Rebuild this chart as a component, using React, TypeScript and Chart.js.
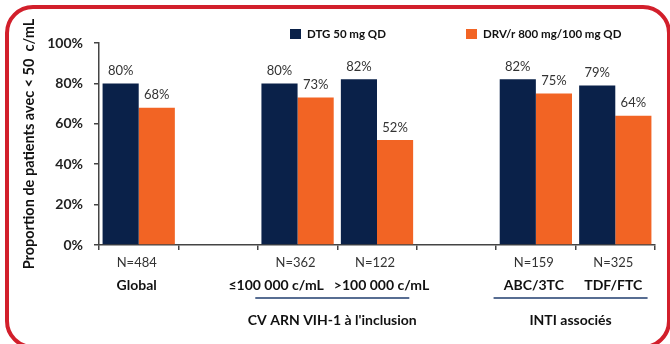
import React, { useEffect, useRef } from "react";
import { Chart, registerables } from "chart.js";
Chart.register(...registerables);

const categories = ["Global", "", "≤100 000 c/mL", ">100 000 c/mL", "", "ABC/3TC", "TDF/FTC"];
const nLabels = ["N=484", "", "N=362", "N=122", "", "N=159", "N=325"];
const dtgValues = [80, null, 80, 82, null, 82, 79];
const drvValues = [68, null, 73, 52, null, 75, 64];
const seriesNames = ["DTG 50 mg QD", "DRV/r 800 mg/100 mg QD"];
const groupLabels = ["CV ARN VIH-1 à l'inclusion", "INTI associés"];
const groupRanges = [[2, 3], [5, 6]];
const yTickValues = [0, 20, 40, 60, 80, 100];

const NAVY = "#0a2149";
const ORANGE = "#f26424";
const FONT = "Lato, 'Open Sans', sans-serif";

const decorPlugin = {
  id: "decor",
  beforeDraw(chart: any) {
    const ctx = chart.ctx;
    ctx.save();
    ctx.fillStyle = "#ffffff";
    ctx.fillRect(0, 0, chart.width, chart.height);
    ctx.strokeStyle = "#d21f2b";
    ctx.lineWidth = 4;
    ctx.beginPath();
    (ctx as any).roundRect(7, 7, 662, 340, 26);
    ctx.stroke();
    ctx.restore();
  },
  afterDraw(chart: any) {
    const ctx = chart.ctx;
    const x = chart.scales.x;
    ctx.save();
    // value labels
    ctx.font = `13px ${FONT}`;
    ctx.fillStyle = "#333";
    ctx.textAlign = "center";
    ctx.textBaseline = "bottom";
    chart.data.datasets.forEach((ds: any, di: number) => {
      const meta = chart.getDatasetMeta(di);
      meta.data.forEach((el: any, i: number) => {
        const v = ds.data[i];
        if (v === null || v === undefined) return;
        ctx.fillText(v + "%", el.x, el.y - 6);
      });
    });
    // x labels: adjacent names that would collide are pushed apart
    ctx.textBaseline = "middle";
    ctx.font = `bold 14px ${FONT}`;
    const centers = categories.map((_, i) => x.getPixelForValue(i) - 2);
    const nameCenters = centers.slice();
    for (let i = 0; i < categories.length - 1; i++) {
      const a = categories[i], b = categories[i + 1];
      if (!a || !b) continue;
      const wa = ctx.measureText(a).width, wb = ctx.measureText(b).width;
      const overlap = (nameCenters[i] + wa / 2) - (nameCenters[i + 1] - wb / 2) + 10;
      if (overlap > 0 && wa > 80 && wb > 80) {
        nameCenters[i] -= overlap * 0.75;
        nameCenters[i + 1] += overlap * 0.25;
      }
    }
    categories.forEach((c, i) => {
      if (!c) return;
      ctx.font = `13px ${FONT}`;
      ctx.fillStyle = "#333";
      ctx.fillText(nLabels[i], centers[i], 263);
      ctx.font = `bold 14px ${FONT}`;
      ctx.fillStyle = "#111";
      ctx.fillText(c, nameCenters[i], 285);
    });
    // groups
    groupLabels.forEach((g, gi) => {
      const [a, b] = groupRanges[gi];
      const cx = (x.getPixelForValue(a) + x.getPixelForValue(b)) / 2 - 5;
      ctx.strokeStyle = "#1f3c6e";
      ctx.lineWidth = 1.5;
      ctx.beginPath();
      ctx.moveTo(cx - 77, 298);
      ctx.lineTo(cx + 77, 298);
      ctx.stroke();
      ctx.font = `bold 14px ${FONT}`;
      ctx.fillStyle = "#111";
      ctx.fillText(g, cx, 320);
    });
    // legend
    const legendX = [290, 466];
    chart.data.datasets.forEach((ds: any, di: number) => {
      ctx.fillStyle = ds.backgroundColor;
      ctx.fillRect(legendX[di], 29, 11, 10);
      ctx.font = `bold 11.5px ${FONT}`;
      ctx.fillStyle = "#111";
      ctx.textAlign = "left";
      ctx.fillText(ds.label, legendX[di] + 17, 34);
    });
    ctx.restore();
  },
};

export default function App() {
  const ref = useRef<HTMLCanvasElement | null>(null);
  useEffect(() => {
    if (!ref.current) return;
    const chart = new Chart(ref.current, {
      type: "bar",
      data: {
        labels: categories,
        datasets: [
          { label: seriesNames[0], data: dtgValues as any, backgroundColor: NAVY },
          { label: seriesNames[1], data: drvValues as any, backgroundColor: ORANGE },
        ],
      },
      options: {
        responsive: false,
        animation: false,
        layout: { padding: { left: 15, right: 15, top: 43, bottom: 0 } },
        plugins: { legend: { display: false }, tooltip: { enabled: false } },
        datasets: { bar: { categoryPercentage: 0.91, barPercentage: 1 } },
        scales: {
          x: {
            offset: true,
            ticks: { display: false },
            grid: { offset: true, drawOnChartArea: false, drawTicks: true, tickLength: 5, color: "#444", lineWidth: 1.5 },
            border: { color: "#444", width: 1.5 },
            afterFit: (s: any) => { s.height = 99; },
          },
          y: {
            min: 0,
            max: 100,
            afterBuildTicks: (s: any) => { s.ticks = yTickValues.map((v) => ({ value: v })); },
            ticks: {
              callback: (v: any) => v + "%",
              font: { family: FONT, size: 14, weight: "bold" },
              color: "#222",
              padding: 11,
            },
            grid: { drawOnChartArea: false, drawTicks: true, tickLength: 5, color: "#444", lineWidth: 1.5 },
            border: { color: "#444", width: 1.5 },
            title: {
              display: true,
              text: "Proportion de patients avec < 50  c/mL",
              font: { family: FONT, size: 14.5, weight: "bold" },
              color: "#111",
              padding: { top: 6, bottom: 0 },
            },
            afterFit: (s: any) => { s.width = 84; },
          },
        },
      },
      plugins: [decorPlugin],
    });
    return () => chart.destroy();
  }, []);
  return (
    <div style={{ position: "fixed", left: 0, top: 0, width: 670, height: 344 }}>
      <canvas ref={ref} width={670} height={344} style={{ width: 670, height: 344, display: "block" }} />
    </div>
  );
}
